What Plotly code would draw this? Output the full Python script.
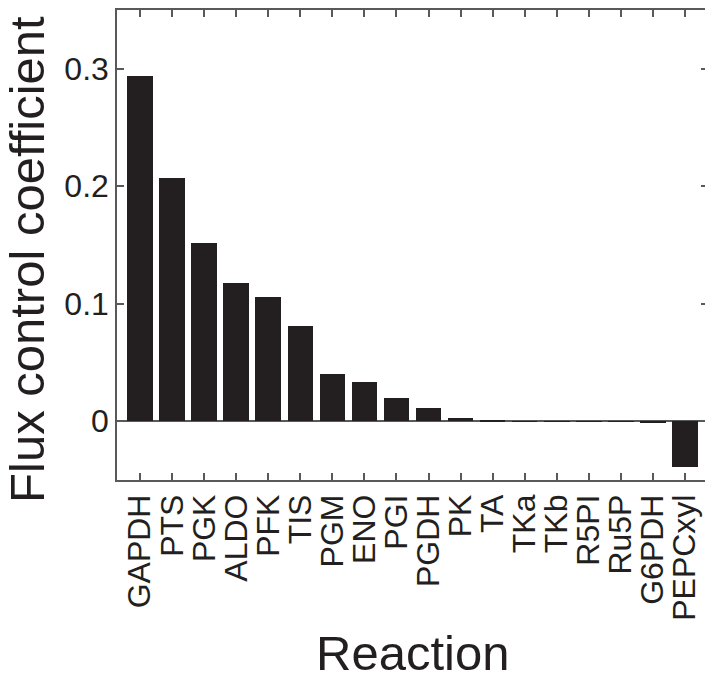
"""Flux control coefficients per reaction (Plotly)"""
import plotly.graph_objects as go

FONT_FAMILY = "Liberation Sans, Arial, Helvetica, sans-serif"
TEXT_COLOR = "#231f20"
AXIS_COLOR = "#58595b"
BAR_COLOR = "#231f20"

# data
reactions = ["GAPDH", "PTS", "PGK", "ALDO", "PFK", "TIS", "PGM", "ENO", "PGI",
             "PGDH", "PK", "TA", "TKa", "TKb", "R5PI", "Ru5P", "G6PDH", "PEPCxyl"]
fcc = [0.294, 0.207, 0.152, 0.118, 0.1057, 0.081, 0.040, 0.0336, 0.0197,
       0.0116, 0.0025, 0.0003, 0.0002, 0.0002, 0.0001, 0.0001, -0.0012, -0.039]

y_ticks = [0, 0.1, 0.2, 0.3]
y_tick_labels = ["0", "0.1", "0.2", "0.3"]

# the page body has an 8px margin, so the figure is a bit smaller than the window
fig = go.Figure()
fig.add_trace(go.Bar(x=list(range(len(reactions))), y=fcc, width=0.8,
                     marker=dict(color=BAR_COLOR, line=dict(width=0))))

fig.update_layout(
    width=705, height=670,
    margin=dict(l=109, r=5, t=0, b=198),
    plot_bgcolor="white", paper_bgcolor="white",
    font=dict(family=FONT_FAMILY, size=32, color=TEXT_COLOR),
    showlegend=False,
    bargap=0,
)
fig.update_xaxes(
    range=[-0.72, len(reactions) - 0.28],
    tickmode="array", tickvals=list(range(len(reactions))), ticktext=reactions,
    tickangle=-90, ticks="inside", ticklen=7, tickwidth=1.5, tickcolor=AXIS_COLOR,
    showline=True, linecolor=AXIS_COLOR, linewidth=1.5, mirror="ticks",
    showgrid=False, zeroline=False,
    tickfont=dict(size=32),
)
fig.update_yaxes(
    range=[-0.05, 0.35],
    tickmode="array", tickvals=y_ticks, ticktext=y_tick_labels,
    ticks="inside", ticklen=7, tickwidth=1.5, tickcolor=AXIS_COLOR,
    showline=True, linecolor=AXIS_COLOR, linewidth=1.5, mirror="ticks",
    showgrid=False, zeroline=True, zerolinecolor=AXIS_COLOR, zerolinewidth=1.5,
    tickfont=dict(size=32),
)

# axis titles as annotations so they can sit exactly where the original has them
fig.add_annotation(text="Reaction", xref="paper", yref="paper",
                   x=0.5, y=(480 - 654) / 472, xanchor="center", yanchor="middle",
                   showarrow=False, font=dict(size=49, color=TEXT_COLOR))
fig.add_annotation(text="Flux control coefficient", xref="paper", yref="paper",
                   x=(27 - 117) / 591, y=(480 - 259) / 472, xanchor="center", yanchor="middle",
                   textangle=-90, showarrow=False, font=dict(size=49, color=TEXT_COLOR))

fig.write_html("out.html")
